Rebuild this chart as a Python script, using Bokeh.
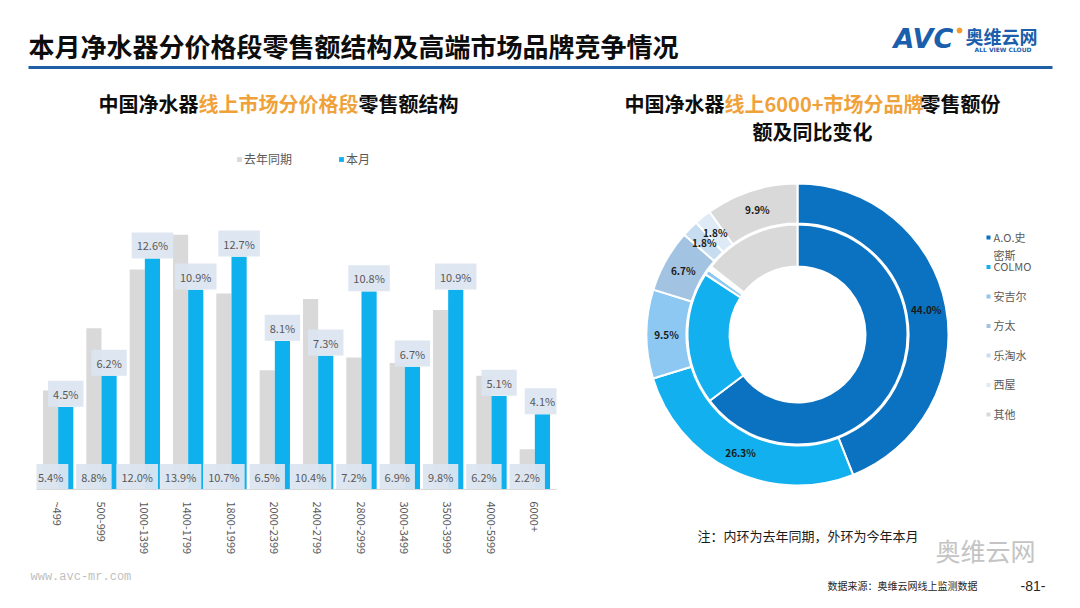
import math
from bokeh.plotting import figure
from bokeh.layouts import column, row
from bokeh.models import ColumnDataSource, FactorRange, Range1d, Legend, LegendItem
from bokeh.transform import dodge
from bokeh.core.properties import value
from bokeh.embed import file_html
from bokeh.resources import INLINE

FONT = "Noto Sans CJK SC"

# ---------------- data ----------------
price_bands = ["~499", "500-999", "1000-1399", "1400-1799", "1800-1999", "2000-2399",
               "2400-2799", "2800-2999", "3000-3499", "3500-3999", "4000-5999", "6000+"]
last_year = [5.4, 8.8, 12.0, 13.9, 10.7, 6.5, 10.4, 7.2, 6.9, 9.8, 6.2, 2.2]
this_month = [4.5, 6.2, 12.6, 10.9, 12.7, 8.1, 7.3, 10.8, 6.7, 10.9, 5.1, 4.1]
series_names = ["去年同期", "本月"]

brands = ["A.O.史密斯", "COLMO", "安吉尔", "方太", "乐淘水", "西屋", "其他"]
brand_legend = ["A.O.史\n密斯", "COLMO", "安吉尔", "方太", "乐淘水", "西屋", "其他"]
share_this_month = [44.0, 26.3, 9.5, 6.7, 1.8, 1.8, 9.9]
share_last_year = [64.7, 19.5, 0.8, 0.3, 0.2, 0.1, 14.4]
brand_colors = ["#0B71C1", "#12B0EE", "#8DC8F2", "#A3C3E3", "#C6DCF0", "#DEEAF6", "#D9D9D9"]

GRAY = "#D9D9D9"
BLUE = "#0FB0EE"
ORANGE = "#EFA23A"
TEXT = "#595959"


def blank(width, height, xr, yr, **kw):
    p = figure(width=width, height=height, x_range=xr, y_range=yr,
               output_backend="svg", toolbar_location=None,
               x_axis_location=None, y_axis_location=None, min_border=0, **kw)
    p.grid.grid_line_color = None
    p.outline_line_color = None
    return p


def txt(p, x, y, s, size, color, style="normal", align="left", font=FONT, baseline="middle"):
    p.text(x=[x], y=[y], text=[s], text_font=value(font), text_font_size=f"{size}px",
           text_color=color, text_font_style=style, text_align=align, text_baseline=baseline)


# ---------------- header (y 0..145) ----------------
hdr = blank(1080, 145, Range1d(0, 1080), Range1d(145, 0))
txt(hdr, 28, 45, "本月净水器分价格段零售额结构及高端市场品牌竞争情况", 26, "#0D0D0D", "bold")
hdr.segment(x0=[28], y0=[67], x1=[1052], y1=[67], line_color="#1F5FA6", line_width=3)
# logo
txt(hdr, 893, 38, "AVC", 27, "#1B5EAB", "bold italic", font="DejaVu Sans")
hdr.scatter(x=[959], y=[30], size=5, color="#F39C2C", marker="circle")
txt(hdr, 965, 35, "奥维云网", 18, "#1B5EAB", "bold")
txt(hdr, 974, 49, "ALL VIEW CLOUD", 6, "#1B5EAB", "bold", font="DejaVu Sans")
# left subtitle
txt(hdr, 98, 103, "中国净水器", 20, "#0D0D0D", "bold")
txt(hdr, 198, 103, "线上市场分价格段", 20, ORANGE, "bold")
txt(hdr, 458, 103, "零售额结构", 20, "#0D0D0D", "bold", align="right")
# right subtitle
txt(hdr, 624, 103, "中国净水器", 20, "#0D0D0D", "bold")
txt(hdr, 724, 103, "线上6000+市场分品牌", 20, ORANGE, "bold")
txt(hdr, 1000, 103, "零售额份", 20, "#0D0D0D", "bold", align="right")
txt(hdr, 812, 131, "额及同比变化", 20, "#0D0D0D", "bold", align="center")

# ---------------- left: bar chart (x 0..558, y 145..568) ----------------
src = ColumnDataSource(dict(
    band=price_bands, ly=last_year, tm=this_month,
    ly_lbl=[f"{v:.1f}%" for v in last_year],
    tm_lbl=[f"{v:.1f}%" for v in this_month],
    tm_lbl_y=[v + 0.72 for v in this_month],
    ly_lbl_y=[0.68] * len(last_year),
))
bar = figure(width=558, height=423, x_range=FactorRange(*price_bands), y_range=Range1d(0, 18.77),
             output_backend="svg", toolbar_location=None, y_axis_location=None,
             min_border_left=36, min_border_right=2, min_border_top=0, min_border_bottom=79)
bar.grid.grid_line_color = None
bar.outline_line_color = None
r_ly = bar.vbar(x=dodge("band", -0.175, range=bar.x_range), top="ly", width=0.35, source=src,
                fill_color=GRAY, line_color=None)
r_tm = bar.vbar(x=dodge("band", 0.175, range=bar.x_range), top="tm", width=0.35, source=src,
                fill_color=BLUE, line_color=None)
for off, ycol, tcol in ((-0.175, "ly_lbl_y", "ly_lbl"), (0.175, "tm_lbl_y", "tm_lbl")):
    bar.text(x=dodge("band", off, range=bar.x_range), y=ycol, text=tcol, source=src,
             text_font=value(FONT), text_font_size="11px", text_color=TEXT, text_align="center",
             text_baseline="middle", background_fill_color="#DCE5F0", background_fill_alpha=0.95,
             padding=5)
ax = bar.xaxis[0]
ax.major_label_orientation = -math.pi / 2
ax.major_label_text_font = FONT
ax.major_label_text_font_size = "11px"
ax.major_label_text_color = TEXT
ax.major_tick_line_color = None
ax.minor_tick_line_color = None
ax.axis_line_color = "#D9D9D9"
ax.major_label_standoff = 6
leg = Legend(items=[LegendItem(label=series_names[0], renderers=[r_ly]),
                    LegendItem(label=series_names[1], renderers=[r_tm])],
             orientation="horizontal", location=(200, 322), glyph_width=6, glyph_height=6,
             label_text_font=FONT, label_text_font_size="12px", label_text_color=TEXT,
             label_standoff=2, label_height=12, spacing=46, padding=0, margin=0,
             border_line_color=None, background_fill_alpha=0)
bar.add_layout(leg)

# ---------------- right: donut (x 558..1080, y 145..525) ----------------
donut = blank(522, 380, Range1d(0, 522), Range1d(0, 380))
CX, CY = 239, 191   # y measured up from screen y 525


def ring(shares):
    starts, ends, mids = [], [], []
    cum = 0.0
    total = sum(shares)
    for s in shares:
        a0 = math.pi / 2 - 2 * math.pi * cum / total
        cum += s
        a1 = math.pi / 2 - 2 * math.pi * cum / total
        starts.append(a0)
        ends.append(a1)
        mids.append((a0 + a1) / 2)
    return starts, ends, mids


s_in, e_in, _ = ring(share_last_year)
in_src = ColumnDataSource(dict(start=s_in, end=e_in, color=brand_colors, brand=brands))
donut.annular_wedge(x=CX, y=CY, inner_radius=68, outer_radius=110, start_angle="start",
                    end_angle="end", direction="clock", fill_color="color", line_color="white",
                    line_width=2, source=in_src)
s_out, e_out, m_out = ring(share_this_month)
out_src = ColumnDataSource(dict(start=s_out, end=e_out, color=brand_colors, brand=brands,
                                lbl=[f"{v:.1f}%" for v in share_this_month],
                                lx=[CX + 131 * math.cos(m) for m in m_out],
                                ly=[CY + 131 * math.sin(m) for m in m_out]))
donut.annular_wedge(x=CX, y=CY, inner_radius=111, outer_radius=151, start_angle="start",
                    end_angle="end", direction="clock", fill_color="color", line_color="white",
                    line_width=2, source=out_src)
donut.text(x="lx", y="ly", text="lbl", source=out_src, text_font=value(FONT),
           text_font_size="10px", text_font_style="bold", text_color="#1A1A1A",
           text_align="center", text_baseline="middle")
# legend
leg_y = [288 - 29.5 * i for i in range(len(brands))]
leg_src = ColumnDataSource(dict(x=[430] * len(brands), y=leg_y, color=brand_colors,
                                tx=[435] * len(brands), ty=[y + 9 for y in leg_y], lab=brand_legend))
donut.scatter(x="x", y="y", marker="square", size=4, fill_color="color", line_color=None, source=leg_src)
donut.text(x="tx", y="ty", text="lab", source=leg_src, text_font=value(FONT), text_font_size="11px",
           text_color=TEXT, text_align="left", text_baseline="top", text_line_height=1.15)

# note strip under the donut (x 558..1080, y 525..568)
note = blank(522, 43, Range1d(0, 522), Range1d(43, 0))
txt(note, 139, 10, "注：内环为去年同期，外环为今年本月", 13, "#1A1A1A")
txt(note, 377, 24, "奥维云网", 25, "#C4C4C4")

# ---------------- footer (y 568..608) ----------------
ftr = blank(1080, 40, Range1d(0, 1080), Range1d(40, 0))
txt(ftr, 30, 8, "www.avc-mr.com", 12, "#BFBFBF", font="Liberation Mono")
txt(ftr, 827, 17, "数据来源：奥维云网线上监测数据", 10, "#262626")
txt(ftr, 1020, 17, "-81-", 14, "#262626", font="Liberation Sans")

page = column(hdr, row(bar, column(donut, note)), ftr)
open("out.html", "w").write(file_html(page, INLINE))
